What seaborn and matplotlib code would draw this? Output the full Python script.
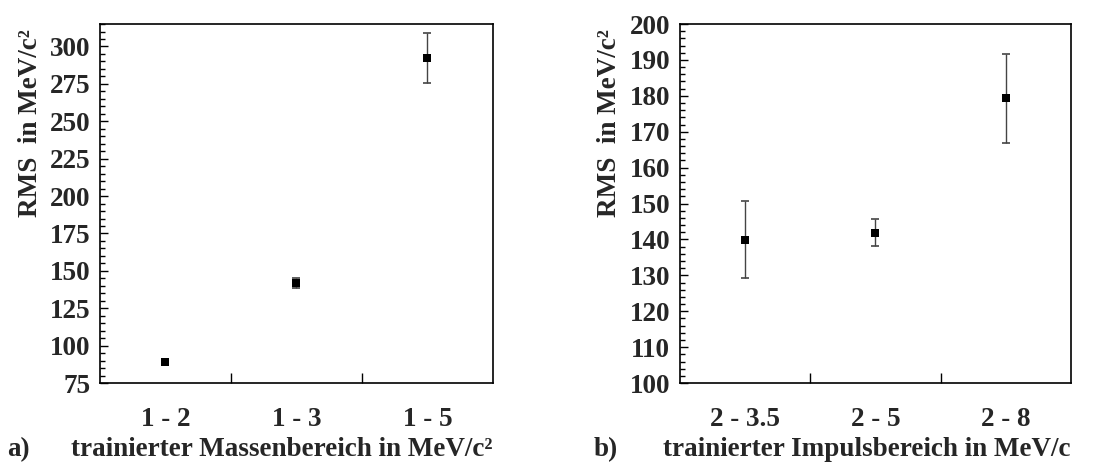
import matplotlib
matplotlib.use("Agg")
import matplotlib.pyplot as plt
from matplotlib.ticker import MultipleLocator, FixedLocator
import seaborn as sns
import pandas as pd

# Data
mass_ranges = ["1 - 2", "1 - 3", "1 - 5"]
mass_rms = [88.8, 142.0, 292.2]
mass_err = [1.5, 3.5, 16.5]

mom_ranges = ["2 - 3.5", "2 - 5", "2 - 8"]
mom_rms = [139.9, 141.9, 179.3]
mom_err = [10.7, 3.8, 12.4]

sns.set_theme(style="ticks")
plt.rcParams["font.family"] = ["Liberation Serif", "DejaVu Serif"]
plt.rcParams["font.weight"] = "bold"
plt.rcParams["axes.labelweight"] = "bold"

FS = 19.5

fig = plt.figure(figsize=(11.02, 4.66), dpi=100)
ax_a = fig.add_axes([0.0907, 0.178, 0.3566, 0.7704])
ax_b = fig.add_axes([0.617, 0.178, 0.3548, 0.7704])


def draw_panel(ax, cats, vals, errs, ylim, major, minor, xlabel, tag):
    df = pd.DataFrame({"pos": range(len(cats)), "rms": vals, "err": errs})
    ax.errorbar(df["pos"], df["rms"], yerr=df["err"], fmt="none",
                ecolor="#444444", elinewidth=1, capsize=3, capthick=1.2, zorder=2)
    sns.scatterplot(data=df, x="pos", y="rms", ax=ax, marker="s", s=40,
                    color="black", edgecolor="black", linewidth=0, zorder=3)
    ax.set_xlim(-0.5, len(cats) - 0.5)
    ax.set_ylim(*ylim)
    ax.yaxis.set_major_locator(MultipleLocator(major))
    ax.yaxis.set_minor_locator(MultipleLocator(minor))
    ax.xaxis.set_major_locator(FixedLocator(range(len(cats))))
    ax.set_xticklabels(cats)
    ax.xaxis.set_minor_locator(FixedLocator([i + 0.5 for i in range(len(cats) - 1)]))
    ax.tick_params(axis="x", which="major", length=0, pad=17, labelsize=FS)
    ax.tick_params(axis="x", which="minor", direction="in", length=7, width=1, color="black")
    ax.tick_params(axis="y", which="major", direction="in", length=6, width=1,
                   pad=7, labelsize=FS, color="black")
    ax.tick_params(axis="y", which="minor", direction="in", length=3.5, width=1, color="black")
    for sp in ax.spines.values():
        sp.set_visible(True)
        sp.set_color("black")
        sp.set_linewidth(1.2)
    ax.set_ylabel("RMS  in MeV/c²", fontsize=FS, fontweight="bold")
    ax.set_xlabel(xlabel, fontsize=FS, fontweight="bold", loc="right")
    ax.xaxis.set_label_coords(1.0, -0.15)
    ax.xaxis.label.set_va("top")
    ax.text(tag[1], -0.15, tag[0], transform=ax.transAxes, fontsize=FS,
            fontweight="bold", ha="left", va="top")
    ax.grid(False)


draw_panel(ax_a, mass_ranges, mass_rms, mass_err, (75, 315), 25, 5,
           "trainierter Massenbereich in MeV/c²", ("a)", -0.237))
draw_panel(ax_b, mom_ranges, mom_rms, mom_err, (100, 200), 10, 2,
           "trainierter Impulsbereich in MeV/c", ("b)", -0.22))

ax_a.yaxis.set_label_coords(-0.178, 0.724)
ax_b.yaxis.set_label_coords(-0.18, 0.724)
ax_a.yaxis.label.set_va("center")
ax_b.yaxis.label.set_va("center")

fig.savefig("out.png", dpi=100)
